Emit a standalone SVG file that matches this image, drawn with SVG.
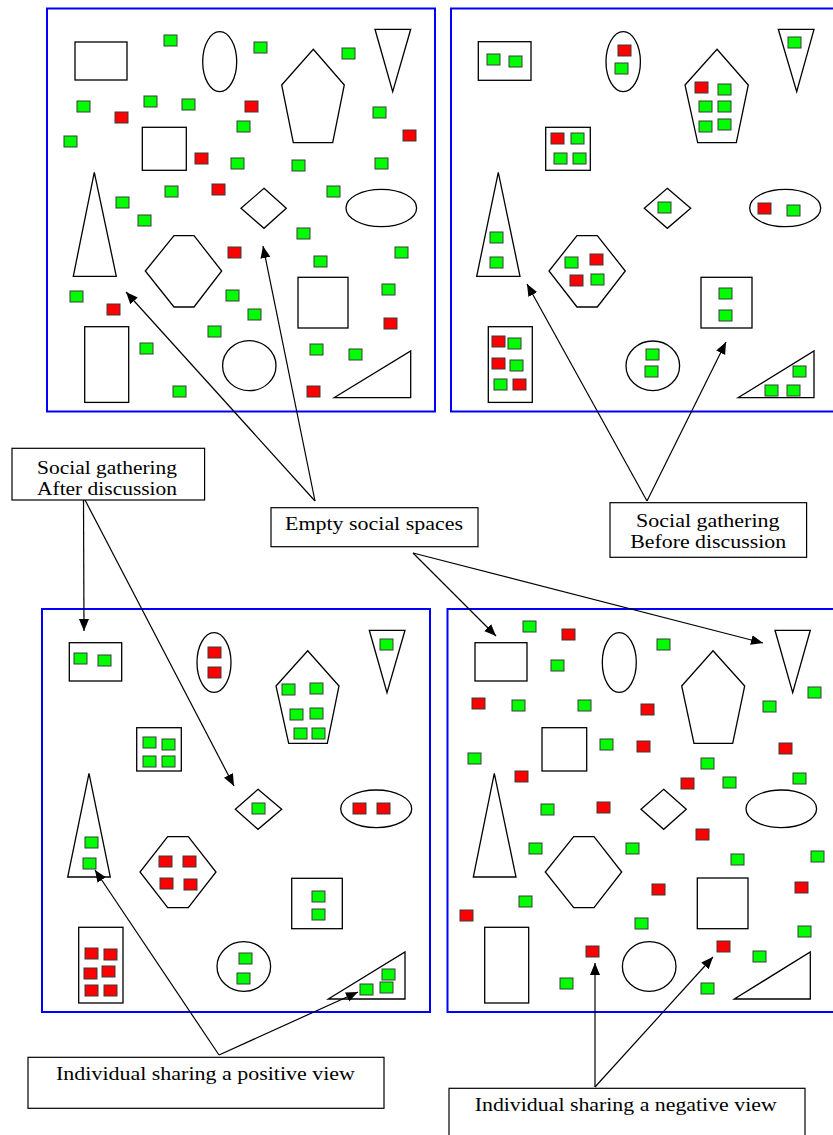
<svg xmlns="http://www.w3.org/2000/svg" xmlns:xlink="http://www.w3.org/1999/xlink" width="833" height="1135" viewBox="0 0 833 1135">
<style>
.panel{fill:#fff;stroke:#0000ff;stroke-width:2}
.sh{fill:none;stroke:#000;stroke-width:1.3}
.box{fill:#fff;stroke:#000;stroke-width:1.2}
.lbl{font-family:"Liberation Serif","Times New Roman",serif;font-size:18.5px;fill:#000;text-anchor:middle}
.con line{stroke:#000;stroke-width:1.2;marker-end:url(#ah)}
</style>
<defs>
<marker id="ah" markerUnits="userSpaceOnUse" markerWidth="13" markerHeight="11" refX="12" refY="5" orient="auto" viewBox="0 0 13 10">
<path d="M0,0 L12,5 L0,10 z" fill="#000"/>
</marker>
<rect id="g" width="13" height="11" fill="#00ff00" stroke="#3a3a3a" stroke-width="1"/>
<rect id="r" width="13" height="11" fill="#ff0000" stroke="#3a3a3a" stroke-width="1"/>
</defs>
<rect width="833" height="1135" fill="#fff"/>

<g id="panel-empty-top">
<rect class="panel" x="47" y="8.5" width="388" height="403"/>
<rect class="sh" x="75" y="42" width="52" height="38"/>
<ellipse class="sh" cx="219.7" cy="61.7" rx="17" ry="30"/>
<polygon class="sh" points="313.3,49.3 344.3,85 332.7,142.7 293.3,142.7 281.7,85"/>
<polygon class="sh" points="375,29.3 410.7,29.3 392.7,91.7"/>
<rect class="sh" x="142.3" y="127.3" width="44" height="43"/>
<polygon class="sh" points="94.3,172.3 116.3,276.3 73.3,276.3"/>
<polygon class="sh" points="264,188.3 286.3,208.3 264,228.3 241,208.3"/>
<ellipse class="sh" cx="381.3" cy="208" rx="35.3" ry="18.7"/>
<polygon class="sh" points="174,235.7 194,235.7 221.7,271 194,307 174,307 145.3,271"/>
<rect class="sh" x="298" y="277.3" width="50" height="50.7"/>
<rect class="sh" x="84.7" y="326.7" width="44" height="75.7"/>
<ellipse class="sh" cx="249.3" cy="365.7" rx="26.7" ry="25"/>
<polygon class="sh" points="334,397.7 410.7,351 410.7,397.7"/>
<use href="#g" x="164" y="35"/><use href="#g" x="254" y="42"/><use href="#g" x="342" y="48"/>
<use href="#g" x="77" y="101"/><use href="#r" x="115" y="112"/><use href="#g" x="144" y="96"/>
<use href="#g" x="182" y="99"/><use href="#r" x="245" y="101"/><use href="#g" x="237" y="121"/>
<use href="#g" x="373" y="107"/><use href="#r" x="403" y="130"/><use href="#g" x="64" y="136"/>
<use href="#r" x="195" y="153"/><use href="#g" x="231" y="158"/><use href="#g" x="292" y="160"/>
<use href="#g" x="375" y="158"/><use href="#g" x="165" y="186"/><use href="#r" x="212" y="184"/>
<use href="#g" x="327" y="186"/><use href="#g" x="116" y="197"/><use href="#g" x="138" y="215"/>
<use href="#g" x="297" y="228"/><use href="#r" x="228" y="247"/><use href="#g" x="395" y="247"/>
<use href="#g" x="314" y="256"/><use href="#g" x="70" y="291"/><use href="#r" x="107" y="304"/>
<use href="#g" x="226" y="290"/><use href="#g" x="248" y="309"/><use href="#g" x="382" y="284"/>
<use href="#r" x="384" y="318"/><use href="#g" x="208" y="326"/><use href="#g" x="140" y="343"/>
<use href="#g" x="310" y="344"/><use href="#g" x="349" y="349"/><use href="#g" x="173" y="386"/>
<use href="#r" x="307" y="386"/>
</g>

<g id="panel-before">
<rect class="panel" x="451" y="8.5" width="392" height="403"/>
<rect class="sh" x="478.3" y="41.7" width="52.7" height="38.6"/>
<ellipse class="sh" cx="623.2" cy="61.7" rx="17.2" ry="30"/>
<polygon class="sh" points="717,49.3 748.3,85 736.3,142.7 697.7,142.7 685,85"/>
<polygon class="sh" points="778.3,29.3 814,29.3 796.7,91.7"/>
<rect class="sh" x="545.7" y="127.3" width="44.6" height="43"/>
<polygon class="sh" points="498.3,172.3 520,276.3 476.7,276.3"/>
<polygon class="sh" points="667.3,188.3 690.7,208.3 667.3,228.3 644.3,208.3"/>
<ellipse class="sh" cx="785.2" cy="208" rx="35.5" ry="18.7"/>
<polygon class="sh" points="577,235.7 597.3,235.7 625.3,271 597.3,307 577,307 549,271"/>
<rect class="sh" x="701" y="277.3" width="51" height="50.7"/>
<rect class="sh" x="488.3" y="326.7" width="44" height="75.7"/>
<ellipse class="sh" cx="652.8" cy="365.8" rx="26.8" ry="24.8"/>
<polygon class="sh" points="738,397.7 814,351 814,397.7"/>
<use href="#g" x="487" y="54"/><use href="#g" x="509" y="56"/><use href="#r" x="618" y="45"/>
<use href="#g" x="615" y="63"/><use href="#r" x="695" y="82"/><use href="#g" x="718" y="84"/>
<use href="#g" x="699" y="101"/><use href="#g" x="718" y="101"/><use href="#g" x="699" y="121"/>
<use href="#g" x="718" y="119"/><use href="#g" x="788" y="37"/><use href="#r" x="551" y="133"/>
<use href="#g" x="571" y="133"/><use href="#g" x="554" y="153"/><use href="#g" x="573" y="153"/>
<use href="#g" x="658" y="202"/><use href="#r" x="758" y="203"/><use href="#g" x="787" y="205"/>
<use href="#g" x="490" y="232"/><use href="#g" x="490" y="257"/><use href="#g" x="565" y="257"/>
<use href="#r" x="590" y="254"/><use href="#r" x="570" y="275"/><use href="#g" x="591" y="274"/>
<use href="#g" x="719" y="288"/><use href="#g" x="719" y="310"/><use href="#r" x="492" y="336"/>
<use href="#g" x="508" y="338"/><use href="#r" x="492" y="358"/><use href="#g" x="510" y="360"/>
<use href="#g" x="494" y="379"/><use href="#r" x="513" y="379"/><use href="#g" x="646" y="349"/>
<use href="#g" x="645" y="366"/><use href="#g" x="793" y="366"/><use href="#g" x="765" y="385"/>
<use href="#g" x="787" y="385"/>
</g>

<g id="panel-after">
<rect class="panel" x="42" y="609" width="388" height="403"/>
<rect class="sh" x="69.3" y="642.7" width="52.4" height="38.3"/>
<ellipse class="sh" cx="214" cy="662.5" rx="17" ry="29.8"/>
<polygon class="sh" points="307.7,650.7 339,686 327.3,743.3 288.7,743.3 276,686"/>
<polygon class="sh" points="369.3,630.3 405,630.3 387,692.7"/>
<rect class="sh" x="136.7" y="727.7" width="44.6" height="43.3"/>
<polygon class="sh" points="89,773.3 110.3,877 67.7,877"/>
<polygon class="sh" points="258,789.3 281.7,809.3 258,829.3 235.3,809.3"/>
<ellipse class="sh" cx="376.2" cy="808.8" rx="35.5" ry="18.8"/>
<polygon class="sh" points="167.7,836.7 188.3,836.7 216,872 188.3,907.7 167.7,907.7 140,872"/>
<rect class="sh" x="291.7" y="878.3" width="50.6" height="50.4"/>
<rect class="sh" x="78.7" y="927.3" width="44.3" height="75.7"/>
<ellipse class="sh" cx="243.8" cy="966.5" rx="26.8" ry="24.8"/>
<polygon class="sh" points="328.3,999 405,952 405,999"/>
<use href="#g" x="74" y="653"/><use href="#g" x="98" y="655"/><use href="#r" x="208" y="647"/>
<use href="#r" x="208" y="667"/><use href="#g" x="380" y="639"/><use href="#g" x="282" y="684"/>
<use href="#g" x="310" y="683"/><use href="#g" x="290" y="709"/><use href="#g" x="310" y="708"/>
<use href="#g" x="294" y="728"/><use href="#g" x="312" y="728"/><use href="#g" x="143" y="737"/>
<use href="#g" x="162" y="739"/><use href="#g" x="143" y="756"/><use href="#g" x="162" y="756"/>
<use href="#g" x="252" y="803"/><use href="#r" x="353" y="803"/><use href="#r" x="377" y="803"/>
<use href="#g" x="85" y="837"/><use href="#g" x="83" y="858"/><use href="#r" x="159" y="856"/>
<use href="#r" x="183" y="856"/><use href="#r" x="160" y="878"/><use href="#r" x="184" y="879"/>
<use href="#g" x="312" y="891"/><use href="#g" x="312" y="909"/><use href="#r" x="85" y="948"/>
<use href="#r" x="104" y="949"/><use href="#r" x="84" y="968"/><use href="#r" x="102" y="966"/>
<use href="#r" x="85" y="985"/><use href="#r" x="104" y="985"/><use href="#g" x="239" y="953"/>
<use href="#g" x="237" y="973"/><use href="#g" x="382" y="969"/><use href="#g" x="380" y="982"/>
<use href="#g" x="360" y="984"/>
</g>

<g id="panel-empty-bottom">
<rect class="panel" x="447.5" y="609" width="395" height="403"/>
<rect class="sh" x="475" y="642.7" width="52" height="38.3"/>
<ellipse class="sh" cx="619.3" cy="662.5" rx="17" ry="29.8"/>
<polygon class="sh" points="713,650.7 744.7,686 732.7,743.3 694,743.3 681.7,686"/>
<polygon class="sh" points="775,630.3 810.3,630.3 792.7,692.7"/>
<rect class="sh" x="542" y="727.7" width="44.7" height="43.3"/>
<polygon class="sh" points="494.3,773.3 516,877 473.3,877"/>
<polygon class="sh" points="663.7,789.3 686.3,809.3 663.7,829.3 641,809.3"/>
<ellipse class="sh" cx="781.3" cy="808.8" rx="35.3" ry="18.8"/>
<polygon class="sh" points="573.7,836.7 594,836.7 621.7,872 594,907.7 573.7,907.7 545.3,872"/>
<rect class="sh" x="697.3" y="878" width="50.7" height="50.7"/>
<rect class="sh" x="484.7" y="927.3" width="44" height="75.7"/>
<ellipse class="sh" cx="649.2" cy="966.5" rx="26.8" ry="24.8"/>
<polygon class="sh" points="734.3,999 810.3,952 810.3,999"/>
<use href="#g" x="523" y="621"/><use href="#r" x="562" y="629"/><use href="#g" x="551" y="660"/>
<use href="#g" x="657" y="639"/><use href="#r" x="472" y="698"/><use href="#g" x="512" y="700"/>
<use href="#g" x="578" y="700"/><use href="#r" x="641" y="704"/><use href="#g" x="808" y="687"/>
<use href="#g" x="763" y="701"/><use href="#g" x="600" y="739"/><use href="#r" x="637" y="741"/>
<use href="#r" x="779" y="743"/><use href="#g" x="468" y="753"/><use href="#r" x="515" y="771"/>
<use href="#g" x="701" y="758"/><use href="#r" x="681" y="778"/><use href="#g" x="723" y="777"/>
<use href="#g" x="793" y="773"/><use href="#g" x="541" y="804"/><use href="#r" x="597" y="802"/>
<use href="#r" x="696" y="829"/><use href="#g" x="529" y="843"/><use href="#g" x="626" y="843"/>
<use href="#g" x="731" y="854"/><use href="#g" x="811" y="851"/><use href="#r" x="652" y="884"/>
<use href="#r" x="795" y="882"/><use href="#g" x="519" y="896"/><use href="#r" x="460" y="910"/>
<use href="#g" x="635" y="918"/><use href="#g" x="798" y="926"/><use href="#r" x="586" y="946"/>
<use href="#r" x="717" y="941"/><use href="#g" x="753" y="951"/><use href="#g" x="560" y="978"/>
<use href="#g" x="701" y="983"/>
</g>

<g id="connectors" class="con">
<line x1="315" y1="501" x2="126" y2="292"/>
<line x1="315" y1="501" x2="263" y2="246"/>
<line x1="647" y1="501" x2="527" y2="284"/>
<line x1="647" y1="501" x2="726" y2="342"/>
<line x1="83.5" y1="500" x2="84" y2="631"/>
<line x1="85" y1="500" x2="234" y2="786"/>
<line x1="413" y1="553" x2="496" y2="636"/>
<line x1="413" y1="553" x2="763" y2="643"/>
<line x1="219" y1="1055" x2="95" y2="870"/>
<line x1="219" y1="1055" x2="358" y2="992"/>
<line x1="595" y1="1087" x2="595" y2="963"/>
<line x1="595" y1="1087" x2="713" y2="957"/>
</g>

<g id="label-after">
<rect class="box" x="12" y="448.3" width="192.6" height="51.7"/>
<text class="lbl" x="107" y="473.5" textLength="140" lengthAdjust="spacingAndGlyphs">Social gathering</text>
<text class="lbl" x="107" y="494.5" textLength="140" lengthAdjust="spacingAndGlyphs">After discussion</text>
</g>
<g id="label-empty">
<rect class="box" x="271" y="507.7" width="207" height="39"/>
<text class="lbl" x="374" y="529.5" textLength="178" lengthAdjust="spacingAndGlyphs">Empty social spaces</text>
</g>
<g id="label-before">
<rect class="box" x="610" y="502.7" width="196.6" height="54.6"/>
<text class="lbl" x="707.8" y="526.5" textLength="143.5" lengthAdjust="spacingAndGlyphs">Social gathering</text>
<text class="lbl" x="708.2" y="548" textLength="156" lengthAdjust="spacingAndGlyphs">Before discussion</text>
</g>
<g id="label-positive">
<rect class="box" x="28" y="1057.3" width="356" height="51"/>
<text class="lbl" x="205.5" y="1080" textLength="299" lengthAdjust="spacingAndGlyphs">Individual sharing a positive view</text>
</g>
<g id="label-negative">
<rect class="box" x="449" y="1088.3" width="356" height="60"/>
<text class="lbl" x="625.7" y="1111" textLength="302" lengthAdjust="spacingAndGlyphs">Individual sharing a negative view</text>
</g>
</svg>
